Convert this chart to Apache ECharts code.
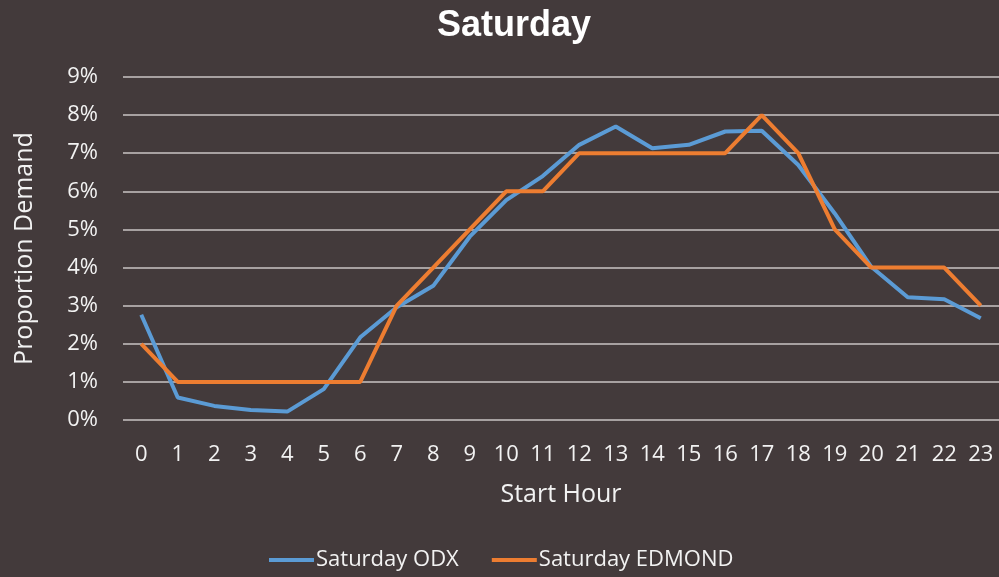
<!DOCTYPE html>
<html>
<head>
<meta charset="utf-8">
<script src="https://cdn.jsdelivr.net/npm/echarts@6/dist/echarts.min.js"></script>
<style>
  html, body { margin: 0; padding: 0; background: #433a3b; }
  #chart { width: 999px; height: 577px; }
</style>
</head>
<body>
<div id="chart"></div>
<script>
// Start hours along the x axis
const hours = ['0','1','2','3','4','5','6','7','8','9','10','11','12','13','14','15','16','17','18','19','20','21','22','23'];
// Share of the day's demand per start hour, in percent
const odx = [2.76, 0.59, 0.37, 0.26, 0.22, 0.81, 2.17, 2.96, 3.52, 4.81, 5.77, 6.40, 7.22, 7.70, 7.13, 7.22, 7.57, 7.59, 6.69, 5.42, 4.02, 3.22, 3.17, 2.67];
const edmond = [2, 1, 1, 1, 1, 1, 1, 3, 4, 5, 6, 6, 7, 7, 7, 7, 7, 8, 7, 5, 4, 4, 4, 3];
const seriesNames = ['Saturday ODX', 'Saturday EDMOND'];

const textColor = '#f2f2f2';
const labelFont = '"Open Sans", Lato, sans-serif';

const chart = echarts.init(document.getElementById('chart'));
chart.setOption({
  backgroundColor: '#433a3b',
  animation: false,
  title: {
    text: 'Saturday',
    left: 432,
    top: 3,
    textStyle: { color: '#ffffff', fontSize: 36, fontWeight: 'bold', fontFamily: '"Liberation Sans", Arial, sans-serif' }
  },
  legend: {
    bottom: 1,
    left: 264,
    itemWidth: 45,
    itemHeight: 4,
    itemGap: 33,
    icon: 'rect',
    textStyle: { color: textColor, fontSize: 22, fontFamily: labelFont, padding: [0, 0, 0, -3] },
    data: seriesNames
  },
  grid: { left: 123, right: -2, top: 77, bottom: 157, containLabel: false },
  xAxis: {
    type: 'category',
    data: hours,
    boundaryGap: true,
    axisLine: { show: false },
    axisTick: { show: false },
    axisLabel: { color: textColor, fontSize: 22, fontFamily: labelFont, margin: 24 },
    name: 'Start Hour',
    nameLocation: 'middle',
    nameGap: 62,
    nameTextStyle: { color: textColor, fontSize: 25, fontFamily: labelFont }
  },
  yAxis: {
    type: 'value',
    min: 0,
    max: 9,
    interval: 1,
    axisLine: { show: false },
    axisTick: { show: false },
    axisLabel: { color: textColor, fontSize: 22, fontFamily: labelFont, margin: 25, formatter: '{value}%' },
    splitLine: { lineStyle: { color: '#c8c4c4', width: 1.5 } },
    name: 'Proportion Demand',
    nameLocation: 'middle',
    nameGap: 86,
    nameTextStyle: { color: textColor, fontSize: 25, fontFamily: labelFont }
  },
  series: [
    {
      name: seriesNames[0],
      type: 'line',
      data: odx,
      symbol: 'none',
      lineStyle: { color: '#5b9bd5', width: 4 },
      itemStyle: { color: '#5b9bd5' }
    },
    {
      name: seriesNames[1],
      type: 'line',
      data: edmond,
      symbol: 'none',
      lineStyle: { color: '#ed7d31', width: 4 },
      itemStyle: { color: '#ed7d31' }
    }
  ]
});
</script>
</body>
</html>
